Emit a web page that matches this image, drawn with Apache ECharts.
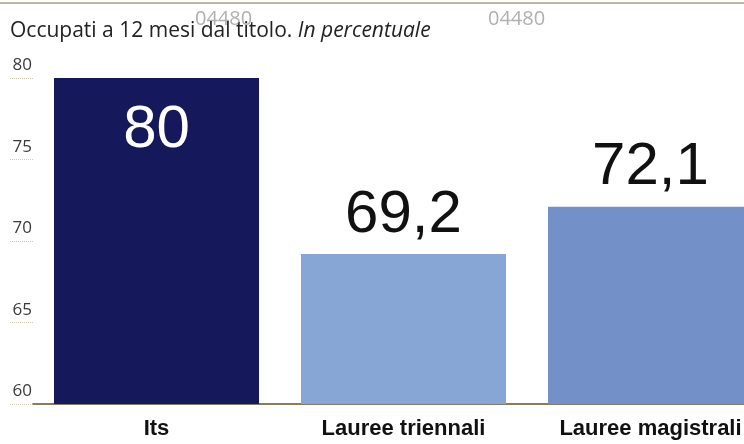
<!DOCTYPE html>
<html>
<head>
<meta charset="utf-8">
<script src="https://cdn.jsdelivr.net/npm/echarts@6/dist/echarts.min.js"></script>
<style>
  html, body { margin: 0; padding: 0; background: #fff; }
  #chart { width: 744px; height: 444px; }
</style>
</head>
<body>
<div id="chart"></div>
<script>
// dati: occupati a 12 mesi dal titolo (%)
var categories = ['Its', 'Lauree triennali', 'Lauree magistrali'];
var values = [80, 69.2, 72.1];
var valueLabels = ['80', '69,2', '72,1'];
var barColors = ['#15195b', '#87a5d5', '#7490c9'];
var yTicks = [60, 65, 70, 75, 80];

var myChart = echarts.init(document.getElementById('chart'));

var barData = values.map(function (v, i) {
  var inside = i === 0;
  return {
    value: v,
    itemStyle: { color: barColors[i] },
    label: {
      show: true,
      formatter: valueLabels[i],
      position: inside ? 'insideTop' : 'top',
      distance: inside ? 24 : 11,
      color: inside ? '#ffffff' : '#111111',
      fontFamily: 'Liberation Sans',
      fontWeight: 'normal',
      fontSize: 60,
      lineHeight: 56
    }
  };
});

var option = {
  backgroundColor: '#ffffff',
  animation: false,
  title: {
    left: 5,
    top: 16,
    text: '{n|Occupati a 12 mesi dal titolo. }{i|In percentuale}',
    textStyle: {
      fontWeight: 'normal',
      rich: {
        n: { fontFamily: 'Open Sans', fontSize: 21, fontWeight: 'normal', color: '#222222' },
        i: { fontFamily: 'Open Sans', fontSize: 21, fontWeight: 'normal', color: '#222222', fontStyle: 'italic' }
      }
    }
  },
  graphic: [
    { type: 'line', shape: { x1: 0, y1: 3, x2: 744, y2: 3 }, style: { stroke: '#b9b6a6', lineWidth: 2 } },
    { type: 'text', left: 195, top: 9, style: { text: '04480', fontFamily: 'Open Sans', fontSize: 20, fill: '#b0b0b0' } },
    { type: 'text', left: 488, top: 9, style: { text: '04480', fontFamily: 'Open Sans', fontSize: 20, fill: '#b0b0b0' } }
  ],
  grid: { left: 33, right: -30, top: 78, bottom: 40, containLabel: false, outerBoundsMode: 'none' },
  xAxis: {
    type: 'category',
    data: categories,
    axisLine: { show: true, lineStyle: { color: '#857d5c', width: 2 } },
    axisTick: { show: false },
    axisLabel: {
      margin: 14,
      color: '#111111',
      fontFamily: 'Liberation Sans',
      fontWeight: 'bold',
      fontSize: 22
    }
  },
  yAxis: {
    type: 'value',
    min: yTicks[0],
    max: yTicks[yTicks.length - 1],
    interval: 5,
    splitLine: { show: false },
    axisLine: { show: false },
    axisTick: {
      show: true,
      length: 23,
      lineStyle: { color: '#cfcab2', type: 'dotted', width: 1 }
    },
    axisLabel: {
      align: 'right',
      verticalAlign: 'bottom',
      margin: 1,
      padding: [0, 0, 4, 0],
      color: '#3a3a3a',
      fontFamily: 'Open Sans',
      fontSize: 17
    }
  },
  series: [
    {
      type: 'bar',
      data: barData,
      barCategoryGap: '17%'
    }
  ]
};

myChart.setOption(option);
</script>
</body>
</html>
